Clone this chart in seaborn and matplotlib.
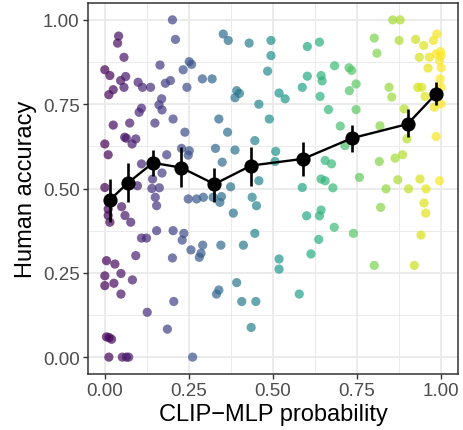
import matplotlib
matplotlib.use("Agg")
import matplotlib.pyplot as plt
import numpy as np
import pandas as pd
import seaborn as sns

# per-image points: CLIP-MLP probability vs human accuracy
clip_prob = [
    0.201, 0.210, 0.041, 0.038, 0.057, 0.000, 0.015, 0.164, 0.251, 0.258,
    0.233, 0.047, 0.062, 0.057, 0.025, 0.012, 0.099, 0.112, 0.136, 0.180,
    0.195, 0.244, 0.290, 0.319, 0.169, 0.161, 0.170, 0.109, 0.102, 0.203,
    0.025, 0.074, 0.149, 0.238, 0.059, 0.064, 0.092, 0.081, 0.000, 0.010,
    0.228, 0.251, 0.248, 0.184, 0.109, 0.170, 0.142, 0.000, 0.097, 0.140,
    0.162, 0.150, 0.154,
    0.352, 0.367, 0.429, 0.494, 0.494, 0.602, 0.638, 0.683, 0.484, 0.602,
    0.643, 0.646, 0.587, 0.392, 0.400, 0.387, 0.518, 0.536, 0.640, 0.458,
    0.665, 0.339, 0.489, 0.700, 0.365, 0.446, 0.329, 0.387, 0.508, 0.506,
    0.349, 0.655, 0.674, 0.643, 0.655, 0.458, 0.374, 0.587, 0.678,
    0.856, 0.878, 0.801, 0.875, 0.924, 0.948, 0.977, 0.987, 0.809, 0.935,
    0.965, 0.985, 0.998, 1.000, 0.995, 1.000, 0.961, 0.726, 0.734, 0.747,
    0.727, 0.845, 0.853, 0.930, 0.942, 0.997, 1.000, 0.952, 0.980, 1.000,
    0.747, 0.890, 0.818, 0.898, 0.985, 0.714, 0.816, 0.863, 0.885, 0.757,
    0.871, 0.937, 0.995,
    0.010, 0.010, 0.015, 0.050, 0.060, 0.077, 0.248, 0.273, 0.293, 0.154,
    0.109, 0.124, 0.203, 0.235, 0.230, 0.256, 0.291, 0.286, 0.281, 0.092,
    0.201, 0.005, 0.030, 0.048, 0.000, 0.027, 0.000, 0.082, 0.048, 0.205,
    0.126, 0.186, 0.005, 0.013, 0.020, 0.012, 0.052, 0.064, 0.071, 0.261,
    0.322, 0.347, 0.342, 0.438, 0.451, 0.382, 0.446, 0.345, 0.412, 0.643,
    0.638, 0.600, 0.682, 0.636, 0.613, 0.518, 0.518, 0.392, 0.339, 0.332,
    0.407, 0.449, 0.578, 0.435,
    0.836, 0.903, 0.955, 0.949, 0.954, 0.820, 0.739, 0.940, 0.801, 0.920,
]
human_acc = [
    1.000, 0.942, 0.952, 0.931, 0.889, 0.852, 0.835, 0.866, 0.876, 0.868,
    0.852, 0.820, 0.832, 0.800, 0.793, 0.778, 0.815, 0.800, 0.800, 0.812,
    0.820, 0.800, 0.825, 0.825, 0.766, 0.748, 0.733, 0.738, 0.726, 0.706,
    0.688, 0.694, 0.694, 0.667, 0.652, 0.649, 0.647, 0.632, 0.632, 0.600,
    0.619, 0.612, 0.599, 0.600, 0.573, 0.546, 0.528, 0.503, 0.508, 0.500,
    0.502, 0.474, 0.449,
    0.958, 0.939, 0.931, 0.939, 0.894, 0.921, 0.934, 0.864, 0.848, 0.833,
    0.835, 0.819, 0.800, 0.790, 0.782, 0.769, 0.783, 0.766, 0.773, 0.750,
    0.734, 0.706, 0.706, 0.685, 0.667, 0.642, 0.619, 0.614, 0.610, 0.580,
    0.578, 0.583, 0.573, 0.528, 0.523, 0.523, 0.505, 0.503, 0.502,
    1.000, 1.000, 0.946, 0.939, 0.942, 0.924, 0.939, 0.958, 0.901, 0.889,
    0.889, 0.899, 0.906, 0.894, 0.879, 0.858, 0.857, 0.858, 0.850, 0.810,
    0.790, 0.800, 0.771, 0.800, 0.800, 0.825, 0.800, 0.773, 0.741, 0.751,
    0.734, 0.736, 0.686, 0.647, 0.654, 0.627, 0.580, 0.590, 0.600, 0.533,
    0.526, 0.528, 0.523,
    0.439, 0.420, 0.400, 0.446, 0.420, 0.400, 0.469, 0.469, 0.474, 0.375,
    0.353, 0.353, 0.375, 0.367, 0.347, 0.318, 0.332, 0.308, 0.296, 0.301,
    0.294, 0.286, 0.276, 0.248, 0.241, 0.219, 0.212, 0.229, 0.187, 0.165,
    0.133, 0.083, 0.060, 0.058, 0.053, 0.000, 0.000, 0.000, 0.000, 0.000,
    0.474, 0.476, 0.459, 0.474, 0.449, 0.427, 0.367, 0.332, 0.332, 0.436,
    0.419, 0.419, 0.385, 0.349, 0.306, 0.291, 0.261, 0.221, 0.199, 0.187,
    0.165, 0.165, 0.187, 0.088,
    0.499, 0.499, 0.499, 0.457, 0.427, 0.444, 0.367, 0.362, 0.272, 0.272,
]

# binned means with error bars
bin_x = [0.014, 0.068, 0.143, 0.227, 0.326, 0.435, 0.590, 0.734, 0.900, 0.984]
bin_mean = [0.465, 0.516, 0.576, 0.562, 0.513, 0.568, 0.588, 0.649, 0.691, 0.780]
bin_lo = [0.401, 0.459, 0.536, 0.504, 0.459, 0.508, 0.538, 0.608, 0.652, 0.748]
bin_hi = [0.528, 0.575, 0.614, 0.622, 0.560, 0.624, 0.639, 0.687, 0.736, 0.815]

points = pd.DataFrame({"prob": clip_prob, "acc": human_acc})
bins = pd.DataFrame({"prob": bin_x, "acc": bin_mean, "lo": bin_lo, "hi": bin_hi})

sns.set_theme(style="white")
plt.rcParams["font.family"] = ["Liberation Sans", "DejaVu Sans"]

fig = plt.figure(figsize=(4.64, 4.31), dpi=100)
ax = fig.add_axes([88 / 464, 1 - 375 / 431, 370 / 464, 371 / 431])

sns.scatterplot(
    data=points, x="prob", y="acc", hue="prob", palette="viridis",
    hue_norm=(0, 1), s=44, alpha=0.7, linewidth=0, legend=False, ax=ax, zorder=3,
)
sns.lineplot(data=bins, x="prob", y="acc", color="black", linewidth=1.7, ax=ax, zorder=4)
ax.errorbar(
    bins["prob"], bins["acc"],
    yerr=[bins["acc"] - bins["lo"], bins["hi"] - bins["acc"]],
    fmt="none", ecolor="black", elinewidth=1.9, capsize=0, zorder=5,
)
ax.scatter(bins["prob"], bins["acc"], s=105, color="black", linewidth=0, zorder=6)

ax.set_xlim(-0.05, 1.05)
ax.set_ylim(-0.05, 1.05)
ticks = [0, 0.25, 0.5, 0.75, 1.0]
labels = ["0.00", "0.25", "0.50", "0.75", "1.00"]
ax.set_xticks(ticks, labels)
ax.set_yticks(ticks, labels)
ax.set_xticks([0.125, 0.375, 0.625, 0.875], minor=True)
ax.set_yticks([0.125, 0.375, 0.625, 0.875], minor=True)
ax.grid(True, which="major", color="#EBEBEB", linewidth=1.4, zorder=0)
ax.grid(True, which="minor", color="#EBEBEB", linewidth=0.7, zorder=0)
ax.set_axisbelow(True)
ax.tick_params(which="major", length=3.5, width=1.0, color="#333333",
               labelsize=13.5, labelcolor="#4D4D4D", pad=2.5, bottom=True, left=True)
ax.tick_params(which="minor", length=0)
for spine in ax.spines.values():
    spine.set_color("#333333")
    spine.set_linewidth(1.1)

ax.set_xlabel("CLIP\u2212MLP probability", fontsize=17, color="black", labelpad=3)
ax.set_ylabel("Human accuracy", fontsize=17, color="black", labelpad=4)

fig.savefig("out.png", dpi=100)
